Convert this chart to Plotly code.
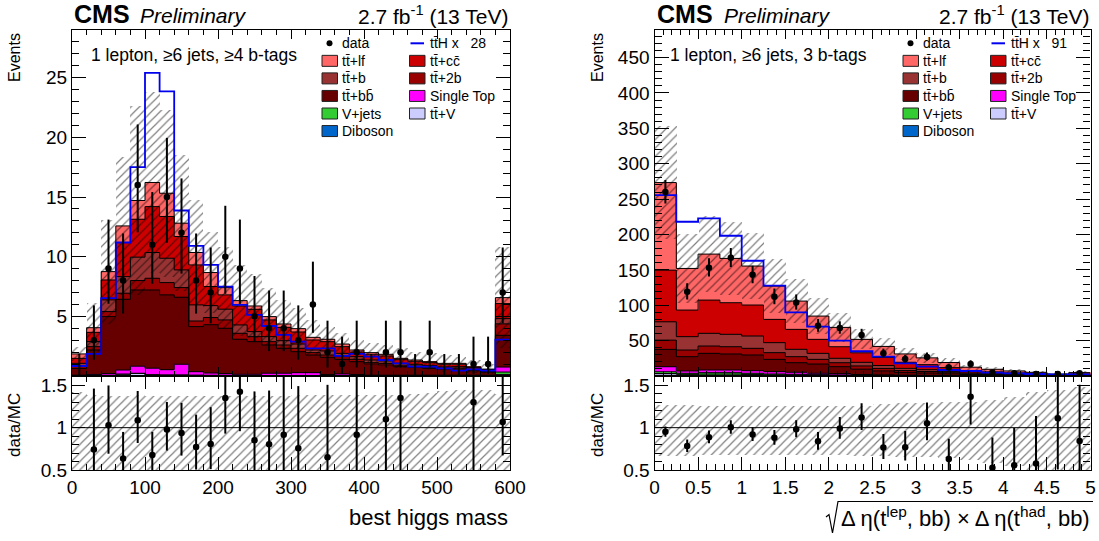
import math
import plotly.graph_objects as go

FONT = "Liberation Sans, Arial, Helvetica, sans-serif"
W, H = 1099, 541

# ---------------- left: best higgs mass, 1 lepton, >=6 jets, >=4 b-tags ----------------
mass_start, mass_width = 0, 20
mass_data = [0, 3, 9, 8, 16, 11, 15, 12, 8, 7, 10, 9, 5, 4, 4, 3, 6, 2, 1, 2,
             0, 2, 2, 0, 2, 0, 0, 1, 1, 7]
mass_ttlf = [0.37, 0.39, 0.70, 1.39, 1.57, 2.02, 1.95, 1.12, 1.04, 1.17, 0.61, 0.45, 0.28, 0.28, 0.28,
             0.28, 0.22, 0.20, 0.22, 0.17, 0.14, 0.14, 0.11, 0.11, 0.08, 0.08, 0.08, 0.05, 0.05, 0.50]
mass_ttcc = [0.42, 0.78, 1.67, 2.86, 3.18, 3.85, 3.50, 2.80, 3.35, 1.60, 1.20, 1.59, 1.87, 1.40, 1.12,
             1.01, 0.84, 0.78, 0.56, 0.39, 0.48, 0.42, 0.31, 0.25, 0.25, 0.22, 0.20, 0.14, 0.10, 1.26]
mass_ttb = [0.21, 0.42, 0.98, 1.39, 1.96, 2.16, 2.04, 1.48, 1.35, 1.00, 0.90, 0.70, 0.42, 0.42, 0.36,
            0.36, 0.22, 0.34, 0.28, 0.22, 0.22, 0.20, 0.16, 0.14, 0.14, 0.10, 0.12, 0.08, 0.06, 0.44]
mass_tt2b = [0.21, 0.28, 0.42, 0.51, 0.79, 0.98, 1.03, 0.81, 0.47, 0.60, 0.70, 0.50, 0.42, 0.28, 0.28,
             0.28, 0.20, 0.19, 0.22, 0.20, 0.12, 0.14, 0.12, 0.11, 0.09, 0.08, 0.08, 0.06, 0.05, 0.96]
mass_ttbb = [0.57, 2.05, 4.78, 5.93, 6.39, 6.56, 6.27, 5.62, 3.78, 4.05, 3.80, 2.94, 2.74, 2.37, 2.09,
             1.76, 1.48, 1.45, 1.23, 1.08, 0.93, 0.85, 0.71, 0.66, 0.57, 0.51, 0.51, 0.37, 0.25, 2.66]
mass_stop = [0.05, 0.10, 0.15, 0.35, 0.60, 0.55, 0.45, 0.90, 0.30, 0.20, 0.15, 0.10, 0.10, 0.20, 0.20,
             0.25, 0.25, 0.10, 0.15, 0.10, 0.05, 0.05, 0.05, 0.05, 0.05, 0.05, 0.05, 0.05, 0.05, 0.42]
mass_vjets = [0.0] * 29 + [0.20]
mass_ttv = [0.02, 0.03, 0.05, 0.15, 0.22, 0.10, 0.08, 0.08, 0.06, 0.05, 0.05, 0.04, 0.04, 0.03, 0.03,
            0.03, 0.03, 0.02, 0.02, 0.02, 0.02, 0.02, 0.02, 0.02, 0.02, 0.02, 0.02, 0.02, 0.02, 0.10]
mass_diboson = [0.0] * 29 + [0.03]
mass_tth = [0.84, 1.85, 6.52, 11.19, 17.5, 25.4, 23.85, 13.87, 10.9, 9.31, 7.49, 5.96, 5.12, 4.19, 3.44,
            2.88, 2.32, 2.32, 1.68, 1.85, 1.62, 1.34, 1.06, 0.78, 0.78, 0.64, 0.45, 0.56, 0.45, 3.05]
mass_unc = [0.61, 2.05, 4.35, 5.8, 7.9, 7.6, 7.0, 5.7, 4.4, 3.4, 3.44, 3.0, 2.7, 2.37, 2.0,
            1.7, 1.46, 1.06, 0.9, 0.84, 0.78, 0.78, 0.84, 0.7, 0.7, 0.7, 0.56, 0.54, 0.42, 4.25]
mass_ratio_hi = [1.42, 1.38, 1.37, 1.37, 1.38, 1.37, 1.37, 1.37, 1.37, 1.37, 1.37, 1.37, 1.37, 1.37, 1.37,
                 1.38, 1.38, 1.38, 1.38, 1.38, 1.38, 1.38, 1.39, 1.40, 1.41, 1.43, 1.45, 1.45, 1.44, 1.40]
mass_ratio_lo = 0.40

# ---------------- right: sqrt(deta(tlep,bb) x deta(thad,bb)), 1 lepton, >=6 jets, 3 b-tags ----------------
eta_start, eta_width = 0.0, 0.25
eta_data = [260, 119, 153, 167, 143, 112, 104, 71, 68, 58, 32, 24, 27, 12, 17, 5, 4, 3, 3, 4]
eta_ttlf = [123.8, 58.8, 65.0, 62.6, 55.1, 47.1, 40.0, 32.9, 27.3, 19.0, 15.5, 11.8, 9.6, 7.2, 4.7, 3.6, 2.8, 2.0, 1.0, 1.8]
eta_ttcc = [73.0, 37.6, 47.0, 44.7, 43.8, 32.9, 28.2, 19.8, 16.4, 13.5, 11.5, 8.6, 7.1, 5.3, 3.4, 2.6, 2.0, 1.4, 0.8, 1.3]
eta_ttb = [25.9, 18.9, 17.9, 17.5, 17.4, 14.1, 10.4, 8.5, 6.2, 5.1, 4.1, 3.1, 2.6, 1.9, 1.3, 1.0, 0.7, 0.5, 0.3, 0.5]
eta_tt2b = [13.1, 9.4, 10.4, 10.3, 9.4, 9.5, 8.5, 6.6, 5.6, 4.5, 3.5, 2.6, 2.1, 1.6, 1.0, 0.8, 0.6, 0.4, 0.2, 0.4]
eta_ttbb = [24.5, 20.2, 23.5, 22.6, 22.2, 17.4, 13.6, 13.1, 9.9, 7.6, 5.6, 4.0, 3.4, 2.5, 1.6, 1.2, 0.9, 0.7, 0.3, 0.6]
eta_stop = [7.1, 3.3, 3.8, 3.8, 3.7, 3.3, 2.8, 1.9, 1.9, 1.2, 0.9, 0.6, 0.5, 0.3, 0.25, 0.2, 0.15, 0.1, 0.05, 0.1]
eta_vjets = [2.5, 1.5, 2.0, 2.0, 1.6, 1.2, 1.0, 0.8, 0.6, 0.4, 0.3, 0.2, 0.15, 0.1, 0.07, 0.04, 0.02, 0.05, 0.02, 0.02]
eta_ttv = [2.5, 1.5, 1.9, 1.9, 1.5, 1.1, 1.0, 0.8, 0.6, 0.4, 0.3, 0.2, 0.15, 0.1, 0.08, 0.06, 0.03, 0.05, 0.03, 0.03]
eta_diboson = [1.0, 0.8, 0.8, 0.8, 0.7, 0.5, 0.4, 0.3, 0.2, 0.1, 0.1, 0.1, 0.05, 0.05, 0.05, 0.0, 0.0, 0.0, 0.0, 0.0]
eta_tth = [255.6, 218.0, 222.7, 198.2, 162.9, 127.6, 89.9, 69.7, 49.9, 35.0, 27.3, 17.9, 13.2, 8.5, 7.1, 4.7, 3.8, 2.8, 2.4, 2.4]
eta_unc = [80, 49, 54, 52, 47, 38, 31, 25, 20, 14, 12, 9, 7.5, 5.7, 3.7, 3.0, 2.5, 2.1, 1.2, 2.2]
eta_ratio_hi = [1.265, 1.265, 1.25, 1.25, 1.25, 1.25, 1.25, 1.25, 1.25, 1.26, 1.28, 1.29, 1.29, 1.30, 1.30,
                1.33, 1.36, 1.42, 1.45, 1.48]
eta_ratio_lo = [0.67, 0.67, 0.68, 0.68, 0.68, 0.68, 0.68, 0.68, 0.68, 0.67, 0.66, 0.65, 0.65, 0.64, 0.62,
                0.58, 0.55, 0.50, 0.50, 0.48]

# sample styles
TT = "tt\u0304"
C_LF, C_CC, C_B, C_2B, C_BB = "#ff6666", "#cc0000", "#993333", "#990000", "#660000"
C_ST, C_VJ, C_TTV, C_VV = "#ff00ff", "#33cc33", "#ccccff", "#0066cc"
C_TTH = "#0000ee"

RATIO_RANGE = [0.5, 1.61]


def poisson_cdf(k, mu):
    if k < 0:
        return 0.0
    if mu <= 0:
        return 1.0
    return sum(math.exp(i * math.log(mu) - mu - math.lgamma(i + 1)) for i in range(k + 1))


def find_mu(k, target):
    lo, hi = 0.0, k + 20 * math.sqrt(k + 1) + 20
    for _ in range(80):
        mid = 0.5 * (lo + hi)
        if poisson_cdf(k, mid) > target:
            lo = mid
        else:
            hi = mid
    return 0.5 * (lo + hi)


def garwood(n):
    q = 0.158655
    up = find_mu(n, q)
    dn = find_mu(n - 1, 1 - q) if n > 0 else 0.0
    return dn, up


fig = go.Figure()
annotations = []
shapes = []
HATCH = dict(shape="/", fgcolor="black", bgcolor="rgba(0,0,0,0)", size=6, solidity=0.2)


def draw_panel(xa, ya, xr, yr, start, width, layers, data, tth, unc, band_hi, band_lo):
    n = len(data)
    edges = [start + width * i for i in range(n + 1)]
    centers = [start + width * (i + 0.5) for i in range(n)]
    common = dict(showlegend=False, hoverinfo="skip")

    # stacked backgrounds
    base = [0.0] * n
    tops = []
    for vals, color in layers:
        fig.add_trace(go.Bar(x=centers, y=vals, base=list(base), width=width,
                             marker=dict(color=color, line=dict(width=0)),
                             xaxis=xa, yaxis=ya, **common))
        base = [b + v for b, v in zip(base, vals)]
        tops.append(list(base))
    total = base
    for t in tops:
        fig.add_trace(go.Scatter(x=edges, y=t + [t[-1]], mode="lines",
                                 line=dict(color="black", width=1, shape="hv"),
                                 xaxis=xa, yaxis=ya, **common))

    # total uncertainty band
    fig.add_trace(go.Bar(x=centers, y=[2 * u for u in unc], base=[t - u for t, u in zip(total, unc)],
                         width=width, marker=dict(color="rgba(0,0,0,0)", line=dict(width=0), pattern=HATCH),
                         xaxis=xa, yaxis=ya, **common))

    # scaled signal
    fig.add_trace(go.Scatter(x=edges, y=tth + [tth[-1]], mode="lines",
                             line=dict(color=C_TTH, width=1.8, shape="hv"),
                             xaxis=xa, yaxis=ya, **common))

    # data (empty bins show only their upper error)
    errs = [garwood(d) for d in data]
    for filled in (True, False):
        idx = [i for i, d in enumerate(data) if (d > 0) == filled]
        fig.add_trace(go.Scatter(
            x=[centers[i] for i in idx], y=[data[i] for i in idx], mode="markers",
            marker=dict(color="black", size=6.5 if filled else 1, line=dict(width=0),
                        opacity=1 if filled else 0),
            error_y=dict(type="data", symmetric=False,
                         array=[errs[i][1] - data[i] for i in idx],
                         arrayminus=[data[i] - errs[i][0] for i in idx],
                         width=0, thickness=2, color="black"),
            xaxis=xa, yaxis=ya, **common))

    # ratio panel
    lo_list = band_lo if isinstance(band_lo, list) else [band_lo] * n
    fig.add_trace(go.Bar(x=centers, y=[h - l for h, l in zip(band_hi, lo_list)], base=lo_list,
                         width=width, marker=dict(color="rgba(0,0,0,0)", line=dict(width=0), pattern=HATCH),
                         xaxis=xr, yaxis=yr, **common))
    rx, ry, ru, rd = [], [], [], []
    for c, d, t, e in zip(centers, data, total, errs):
        if d == 0:
            continue
        r = d / t
        if r < RATIO_RANGE[0] or r > RATIO_RANGE[1]:
            continue
        rx.append(c)
        ry.append(r)
        ru.append((e[1] - d) / t)
        rd.append((d - e[0]) / t)
    fig.add_trace(go.Scatter(x=rx, y=ry, mode="markers",
                             marker=dict(color="black", size=6.5, line=dict(width=0)),
                             error_y=dict(type="data", symmetric=False, array=ru, arrayminus=rd,
                                          width=0, thickness=2, color="black"),
                             xaxis=xr, yaxis=yr, **common))
    shapes.append(dict(type="line", xref=xr, yref=yr, x0=edges[0], x1=edges[-1], y0=1, y1=1,
                       line=dict(color="black", width=1)))


mass_layers = [(mass_diboson, C_VV), (mass_ttv, C_TTV), (mass_vjets, C_VJ), (mass_stop, C_ST),
               (mass_ttbb, C_BB), (mass_tt2b, C_2B), (mass_ttb, C_B), (mass_ttcc, C_CC), (mass_ttlf, C_LF)]
eta_layers = [(eta_diboson, C_VV), (eta_ttv, C_TTV), (eta_vjets, C_VJ), (eta_stop, C_ST),
              (eta_ttbb, C_BB), (eta_tt2b, C_2B), (eta_ttb, C_B), (eta_ttcc, C_CC), (eta_ttlf, C_LF)]

draw_panel("x", "y", "x2", "y2", mass_start, mass_width, mass_layers, mass_data, mass_tth,
           mass_unc, mass_ratio_hi, mass_ratio_lo)
draw_panel("x3", "y3", "x4", "y4", eta_start, eta_width, eta_layers, eta_data, eta_tth,
           eta_unc, eta_ratio_hi, eta_ratio_lo)


def px(v):
    return v / W


def py(v):
    return 1 - v / H


LEFT_X = [px(72), px(510)]
RIGHT_X = [px(654.5), px(1090.5)]
TOP_Y = [py(376), py(30)]
RAT_Y = [py(470), py(376)]


def axis(**kw):
    d = dict(showline=True, linecolor="black", linewidth=1.3, mirror="allticks", ticks="inside",
             tickcolor="black", tickwidth=1, showgrid=False, zeroline=False, automargin=False,
             tickfont=dict(family=FONT, size=19, color="black"))
    d.update(kw)
    return d


def minor(dt, ln):
    return dict(ticks="inside", tickmode="linear", tick0=0, dtick=dt, ticklen=ln,
                tickcolor="black", tickwidth=1, showgrid=False)


mass_y_ticks = [5, 10, 15, 20, 25]
eta_y_ticks = [50, 100, 150, 200, 250, 300, 350, 400, 450]
ratio_ticks = [0.5, 1, 1.5]

fig.update_layout(
    width=W, height=H, margin=dict(l=0, r=0, t=0, b=0, pad=0, autoexpand=False),
    paper_bgcolor="white", plot_bgcolor="white", barmode="overlay", bargap=0, showlegend=False,
    font=dict(family=FONT, color="black"),
    xaxis=axis(domain=LEFT_X, anchor="y", range=[0, 600], tickmode="linear", tick0=0, dtick=100,
               ticklen=9, showticklabels=False, minor=minor(20, 5)),
    yaxis=axis(domain=TOP_Y, anchor="x", range=[0, 29.0], tickmode="array", tickvals=mass_y_ticks,
               ticklen=14, minor=minor(1, 7)),
    xaxis2=axis(domain=LEFT_X, anchor="y2", range=[0, 600], tickmode="linear", tick0=0, dtick=100,
                ticklen=13, minor=minor(20, 6)),
    yaxis2=axis(domain=RAT_Y, anchor="x2", range=RATIO_RANGE, tickmode="array", tickvals=ratio_ticks,
                ticktext=["0.5", "1", "1.5"], ticklen=13, minor=minor(0.1, 7)),
    xaxis3=axis(domain=RIGHT_X, anchor="y3", range=[0, 5], tickmode="linear", tick0=0, dtick=0.5,
                ticklen=9, showticklabels=False, minor=minor(0.1, 5)),
    yaxis3=axis(domain=TOP_Y, anchor="x3", range=[0, 489], tickmode="array", tickvals=eta_y_ticks,
                ticklen=14, minor=minor(10, 7)),
    xaxis4=axis(domain=RIGHT_X, anchor="y4", range=[0, 5], tickmode="linear", tick0=0, dtick=0.5,
                ticklen=13, minor=minor(0.1, 6)),
    yaxis4=axis(domain=RAT_Y, anchor="x4", range=RATIO_RANGE, tickmode="array", tickvals=ratio_ticks,
                ticktext=["0.5", "1", "1.5"], ticklen=13, minor=minor(0.1, 7)),
)


def text(x, y, s, size, xanchor="left", angle=0):
    annotations.append(dict(x=px(x), y=py(y), xref="paper", yref="paper", text=s, showarrow=False,
                            xanchor=xanchor, yanchor="middle", textangle=angle,
                            font=dict(family=FONT, size=size, color="black")))


# headers
for x_cms, x_pre, x_lumi in [(72, 138, 510), (655, 722, 1091)]:
    text(x_cms, 14, "<b>CMS</b>", 25)
    text(x_pre, 15, "<i>Preliminary</i>", 21)
    text(x_lumi, 15, "2.7 fb<sup>-1</sup> (13 TeV)", 21, xanchor="right")

text(89, 55, "1 lepton, \u22656 jets, \u22654 b-tags", 17.5)
text(668, 55, "1 lepton, \u22656 jets, 3 b-tags", 17.5)

# axis titles
for xt in (14, 597):
    text(xt, 58, "Events", 16, xanchor="center", angle=-90)
    text(xt, 425, "data/MC", 17, xanchor="center", angle=-90)
text(510, 517, "best higgs mass", 22, xanchor="right")
text(1092, 517, "\u0394 \u03b7(t<sup>lep</sup>, bb) \u00d7 \u0394 \u03b7(t<sup>had</sup>, bb)", 22, xanchor="right")
shapes.append(dict(type="path", xref="paper", yref="paper",
                   path=f"M {px(826):.5f},{py(517):.5f} L {px(829):.5f},{py(514.5):.5f} "
                        f"L {px(832.5):.5f},{py(533):.5f} L {px(838):.5f},{py(501.5):.5f} "
                        f"L {px(1093):.5f},{py(501.5):.5f}",
                   line=dict(color="black", width=1.2)))

# legends
legend_rows = [
    (("data", "marker"), (TT + "H x\u00a0\u00a0 {scale}", "line")),
    ((TT + "+lf", C_LF), (TT + "+cc\u0304", C_CC)),
    ((TT + "+b", C_B), (TT + "+2b", C_2B)),
    ((TT + "+bb\u0304", C_BB), ("Single Top", C_ST)),
    (("V+jets", C_VJ), (TT + "+V", C_TTV)),
    (("Diboson", C_VV), None),
]


def legend(x0, scale):
    cols = [x0, x0 + 87.5]
    for r, row in enumerate(legend_rows):
        yc = 43.3 + 17.55 * r
        for c, entry in enumerate(row):
            if entry is None:
                continue
            label, kind = entry
            bx = cols[c]
            if kind == "marker":
                shapes.append(dict(type="circle", xref="paper", yref="paper",
                                   x0=px(bx + 4.5), x1=px(bx + 10.5), y0=py(yc + 3), y1=py(yc - 3),
                                   fillcolor="black", line=dict(width=0)))
            elif kind == "line":
                shapes.append(dict(type="line", xref="paper", yref="paper",
                                   x0=px(bx + 1), x1=px(bx + 14.5), y0=py(yc), y1=py(yc),
                                   line=dict(color=C_TTH, width=2)))
            else:
                shapes.append(dict(type="rect", xref="paper", yref="paper",
                                   x0=px(bx), x1=px(bx + 15.5), y0=py(yc + 5.5), y1=py(yc - 5.5),
                                   fillcolor=kind, line=dict(color="#222222", width=1)))
            text(bx + 18, yc, label.format(scale=scale), 14)


legend(322, 28)
legend(903, 91)

fig.update_layout(annotations=annotations, shapes=shapes)
fig.write_html("out.html")
